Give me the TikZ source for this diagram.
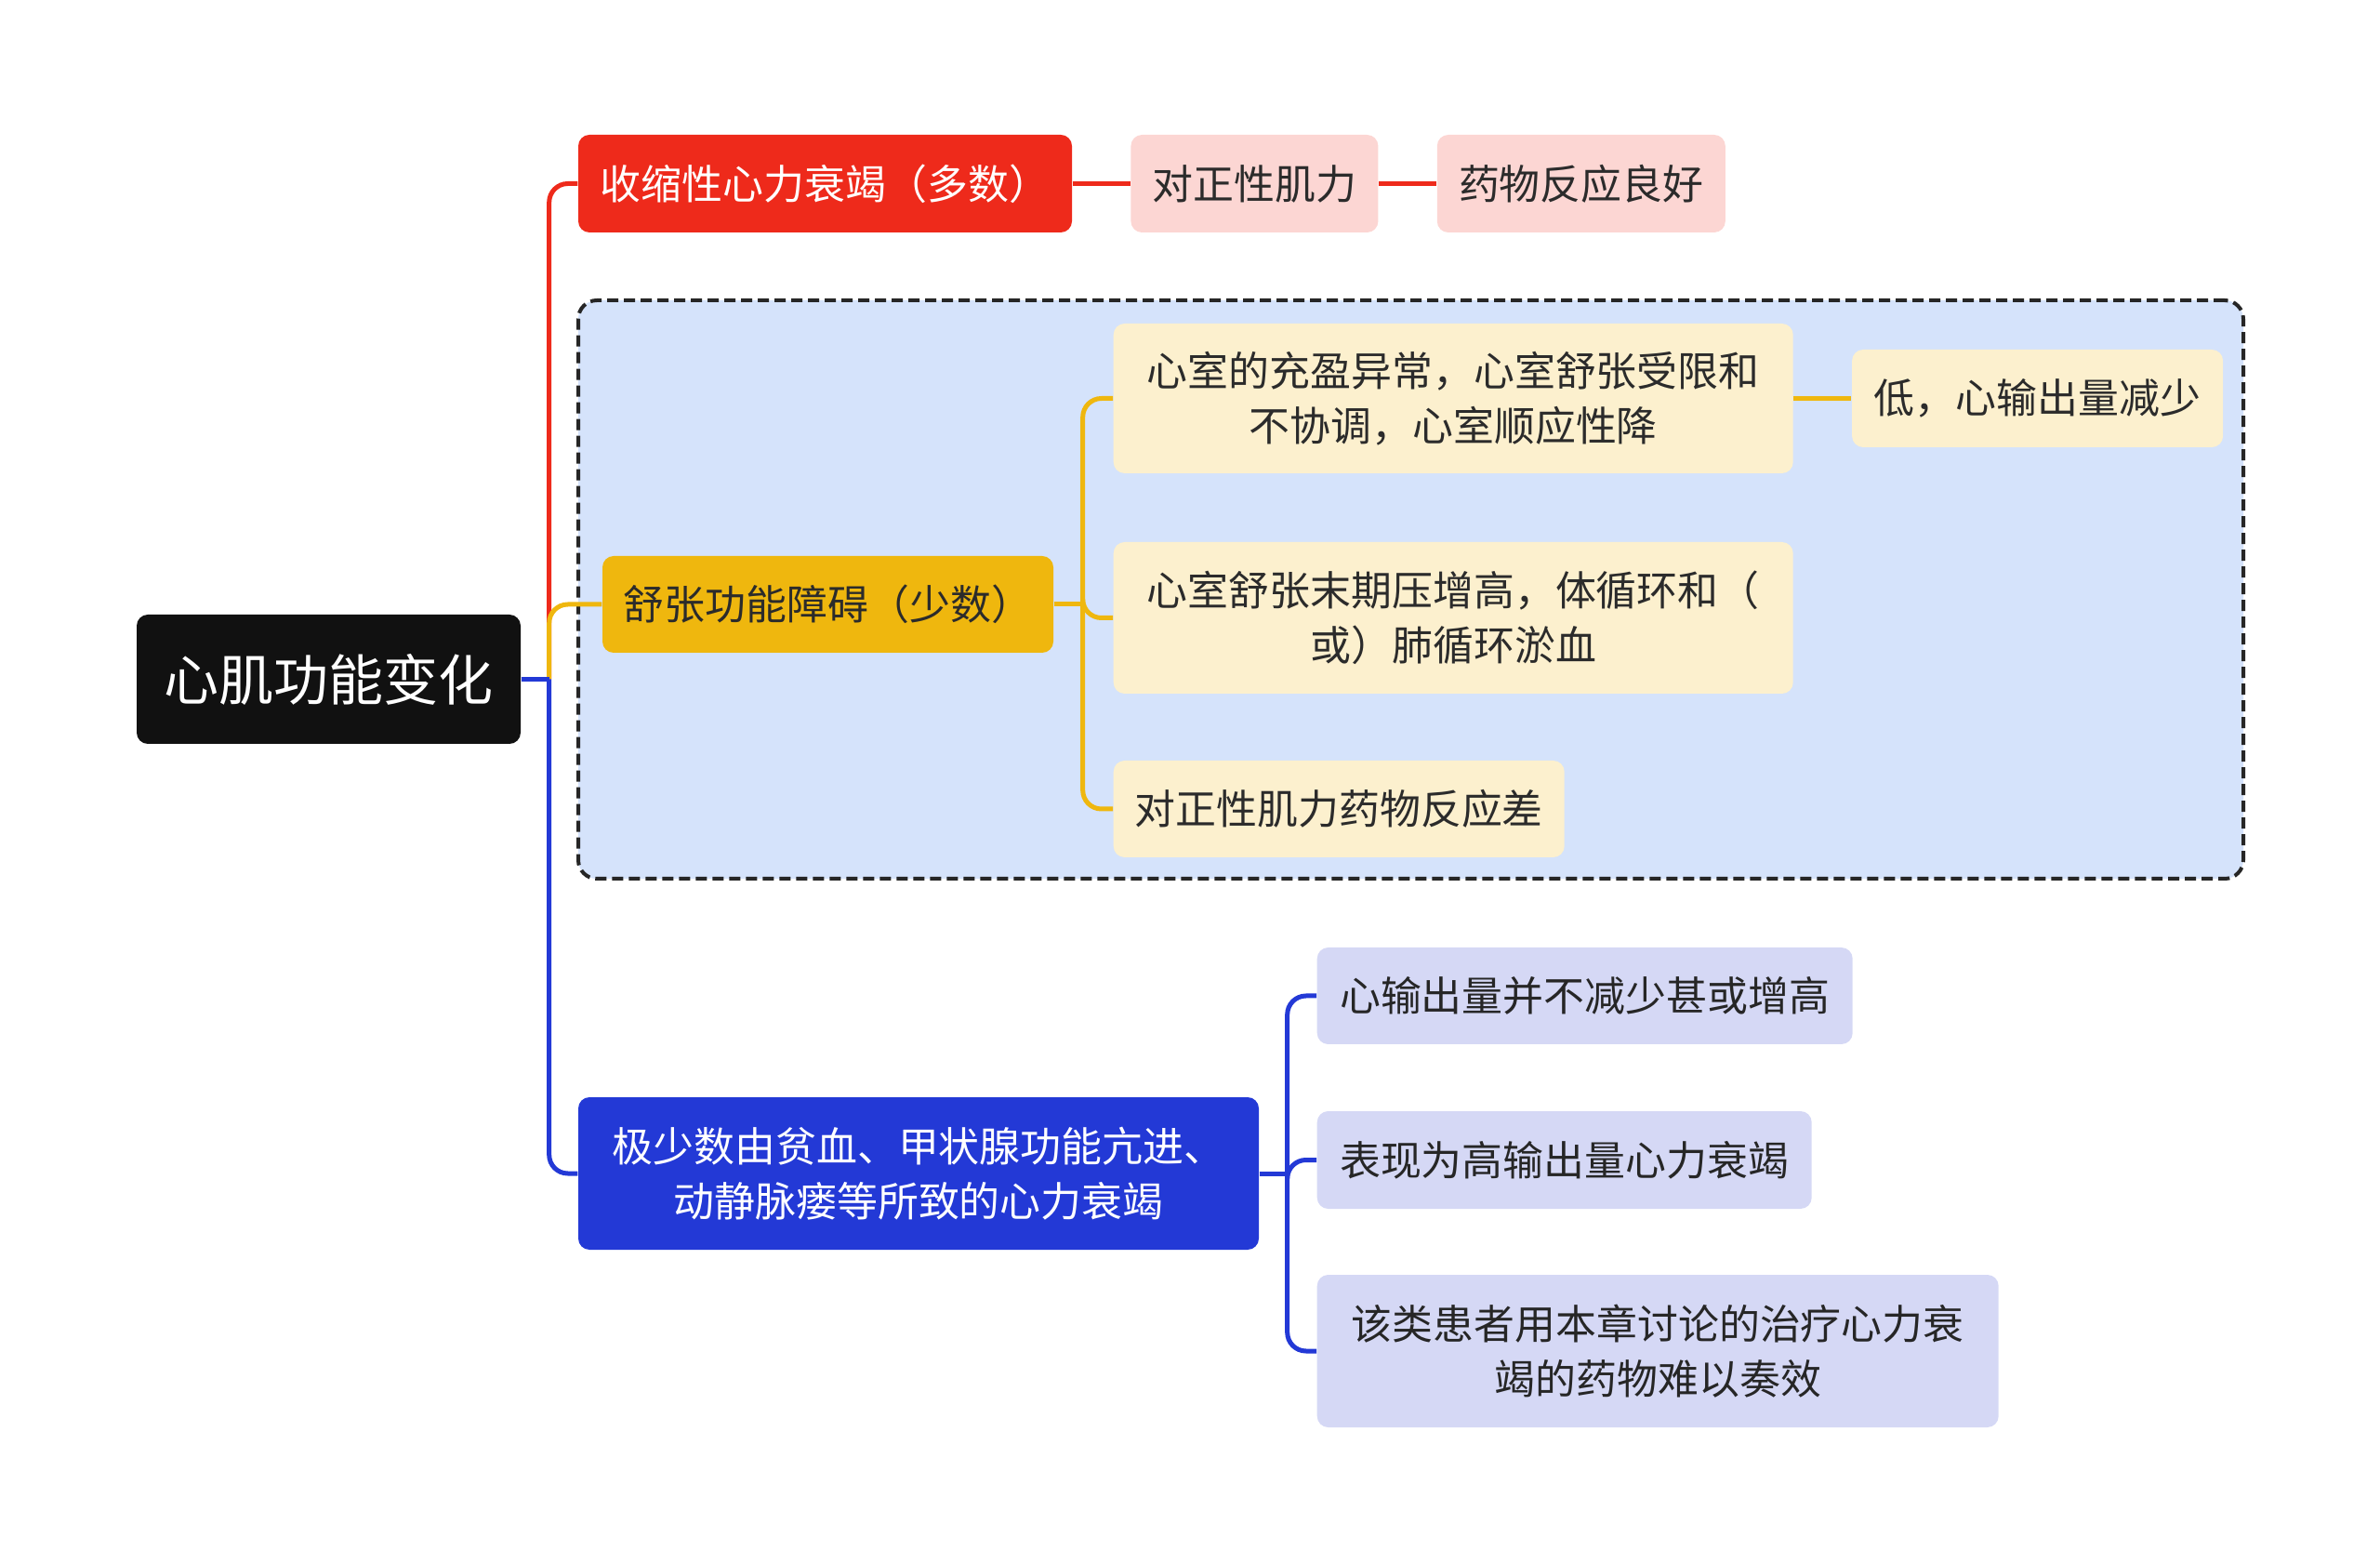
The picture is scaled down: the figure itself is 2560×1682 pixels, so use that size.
\documentclass[tikz,border=0pt]{standalone}
\usepackage{fontspec}
\setmainfont{Noto Sans CJK SC}
\usetikzlibrary{positioning}
\definecolor{rootblack}{HTML}{111111}
\definecolor{sysred}{HTML}{EE2A1B}
\definecolor{syspink}{HTML}{FCD6D3}
\definecolor{diagold}{HTML}{EFB70E}
\definecolor{diacream}{HTML}{FCF0CE}
\definecolor{zoneblue}{HTML}{D5E3FB}
\definecolor{hiblue}{HTML}{2339D6}
\definecolor{hilav}{HTML}{D5D8F5}
\definecolor{inkdark}{HTML}{2B2B2B}
\tikzset{
  leaf/.style={rounded corners=1.2mm, inner sep=0pt, align=center, minimum height=10.5mm, text=inkdark, font=\fontsize{12.5}{16.8}\selectfont},
  rootbox/.style={leaf, fill=rootblack, text=white, font=\fontsize{16.8}{20}\selectfont},
  sysbox/.style={leaf, fill=sysred, text=white},
  sysleaf/.style={leaf, fill=syspink},
  diabox/.style={leaf, fill=diagold, text=inkdark},
  dialeaf/.style={leaf, fill=diacream},
  hibox/.style={leaf, fill=hiblue, text=white},
  hileaf/.style={leaf, fill=hilav, text=black!85},
  zone/.style={draw=black!85, fill=zoneblue, line width=0.4mm, dash pattern=on 1.2mm off 0.6mm, rounded corners=2mm, inner sep=0pt},
  branch/.style={line width=0.5mm, rounded corners=2mm}
}
\begin{document}
\begin{tikzpicture}[x=0.1mm, y=-0.1mm, node distance=6.2mm]
\useasboundingbox (0,0) rectangle (2560,1682);
% dashed group round the diastolic branch
\node[zone, minimum width=179.1mm, minimum height=62.2mm] (zone) at (1517.5,634) {};
\node[rootbox, minimum width=41.3mm, minimum height=13.9mm] (root) at (353.5,730.5) {心肌功能变化};
% systolic
\node[sysbox, minimum width=53.1mm] (sys) at (887.5,197.5) {收缩性心力衰竭（多数）};
\node[sysleaf, minimum width=26.6mm, right=of sys] (sysA) {对正性肌力};
\node[sysleaf, minimum width=31mm, right=of sysA] (sysB) {药物反应良好};
% diastolic
\node[diabox, minimum width=48.5mm, minimum height=10.4mm] (dia) at (890.5,650) {舒张功能障碍（少数）};
\node[dialeaf, anchor=west, minimum width=73.1mm, minimum height=16.1mm] (dia1) at (1197,428.5) {心室的充盈异常，心室舒张受限和\\不协调，心室顺应性降};
\node[dialeaf, minimum width=39.9mm, right=of dia1] (dia1a) {低，心输出量减少};
\node[dialeaf, anchor=west, minimum width=73.1mm, minimum height=16.3mm] (dia2) at (1197,664.5) {心室舒张末期压增高，体循环和（\\或）肺循环淤血};
\node[dialeaf, anchor=west, minimum width=48.5mm, minimum height=10.4mm] (dia3) at (1197,870) {对正性肌力药物反应差};
% high output
\node[hibox, minimum width=73.2mm, minimum height=16.4mm] (hi) at (988,1262) {极少数由贫血、甲状腺功能亢进、\\动静脉瘘等所致的心力衰竭};
\node[hileaf, anchor=west, minimum width=57.6mm, minimum height=10.4mm] (hi1) at (1416,1071) {心输出量并不减少甚或增高};
\node[hileaf, anchor=west, minimum width=53.2mm, minimum height=10.5mm] (hi2) at (1416,1247.5) {表现为高输出量心力衰竭};
\node[hileaf, anchor=west, minimum width=73.3mm, minimum height=16.4mm] (hi3) at (1416,1453) {该类患者用本章讨论的治疗心力衰\\竭的药物难以奏效};
% junction points
\coordinate (rootJ) at ([xshift=3mm]root.east);
\coordinate (diaJ) at ([xshift=3.1mm]dia.east);
\coordinate (hiJ) at ([xshift=3mm]hi.east);
% connectors
\draw[branch, sysred] (rootJ) |- (sys.west);
\draw[branch, sysred] (sys) -- (sysA);
\draw[branch, sysred] (sysA) -- (sysB);
\draw[branch, diagold] (rootJ) |- (dia.west);
\draw[branch, diagold] (dia.east) -- (diaJ);
\draw[branch, diagold] (diaJ) |- (dia1.west);
\draw[branch, diagold] (diaJ) |- (dia2.west);
\draw[branch, diagold] (diaJ) |- (dia3.west);
\draw[branch, diagold] (dia1) -- (dia1a);
\draw[branch, hiblue] (root.east) -- (rootJ);
\draw[branch, hiblue] (rootJ) |- (hi.west);
\draw[branch, hiblue] (hi.east) -- (hiJ);
\draw[branch, hiblue] (hiJ) |- (hi1.west);
\draw[branch, hiblue] (hiJ) |- (hi2.west);
\draw[branch, hiblue] (hiJ) |- (hi3.west);
\end{tikzpicture}
\end{document}
